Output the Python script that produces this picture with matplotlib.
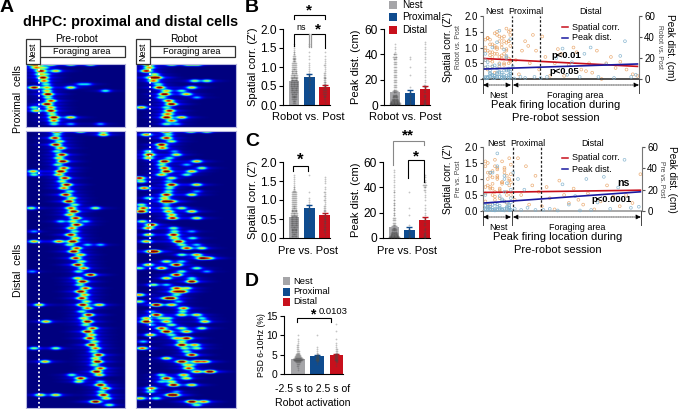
#!/usr/bin/env python
# coding:utf-8
import numpy as np
import matplotlib
matplotlib.use('Agg')
import matplotlib.pyplot as plt

plt.rcParams['font.family'] = ['Liberation Sans', 'DejaVu Sans']

W, H = 678, 409
GRAY, BLUE, RED = '#a5a5a8', '#0f4c8f', '#c8101c'
ORANGE, SKY = '#e8a060', '#7fb0cc'

# firing peaks per cell (% of track), strongest first
prox_pre = [[7, 13, 25, 45, 65], [10, 18], [15, 30], [14, 20], [17], [18], [20, 55, 62], [8, 21, 45],
            [21, 80], [22], [22], [25], [21], [25, 8], [25, 10], [26], [28, 45], [28], [28, 45, 75]]
prox_rob = [[12, 52, 35, 60], [13], [10], [18], [20, 15], [17, 58, 70], [22], [23, 55], [30, 45],
            [28, 50], [25, 60], [32], [35], [5, 30], [33], [30, 33], [30, 45], [35], [30, 40]]
dist_pre = [[31, 55, 78], [78, 31], [29], [34], [30], [35], [31], [36], [33], [37], [32], [38], [35, 7], [33, 8],
            [39], [36], [41], [38], [44], [40], [46], [43], [49], [45, 70, 5], [48], [44], [50], [47, 60, 35],
            [51], [46], [49, 8], [45], [50], [47, 33, 8], [44, 62, 75], [51], [48], [55], [50], [56], [52], [58],
            [53, 6], [65], [52], [57], [54], [60], [55], [59], [56], [61], [57, 74, 13], [62], [56], [63], [58],
            [62, 20], [60], [67], [62], [66], [64], [69], [66], [70, 30, 8], [68], [73], [70], [72, 19], [69],
            [75], [71], [74, 46], [55], [53, 75], [75], [80], [76], [78, 14, 30], [81], [70], [84]]
dist_rob = [[30, 54, 70], [10, 32], [30], [35], [25], [26], [12, 38], [13, 40], [12, 33], [28, 60], [25, 50],
            [28, 65], [30, 55], [25, 50], [3, 35], [5, 32], [35, 60], [8, 33], [32, 60], [30, 55], [28, 12],
            [29, 35], [5, 30], [7, 30, 45], [5, 32, 55], [35], [36, 60], [6], [15], [12, 37], [38, 55], [37, 12],
            [38, 56], [42, 10], [45, 60], [50, 65], [18, 15], [60, 45], [65, 72], [30, 45], [40, 12], [25, 60, 3],
            [45, 70], [40], [30, 55], [55], [17, 30], [40, 50], [45, 38], [3, 40], [35, 30], [3, 42], [20, 35],
            [47], [46, 15], [20, 45, 60], [10, 25, 32, 65], [10, 30, 68], [35, 15], [25, 45, 65], [30, 50],
            [14, 35], [50, 40], [45, 7], [45, 58], [6, 48, 60], [50], [55], [30], [45, 60, 68], [50, 55], [52],
            [73, 60], [47, 25], [30, 50], [35, 25], [37, 55], [15], [14, 40], [35, 38], [4, 20], [55, 67], [60]]
row_gain = [1.15, 0.72, 1.0, 0.55, 1.1, 0.8, 0.45, 1.05, 0.65, 1.15, 0.5, 0.88]

# bars: spatial corr. and peak distance
b_corr_means, b_corr_err = [0.62, 0.73, 0.48], [0.03, 0.08, 0.05]
b_peak_means, b_peak_err = [10, 9.5, 13], [1, 2.2, 2]
c_corr_means, c_corr_err = [0.55, 0.8, 0.6], [0.03, 0.08, 0.06]
c_peak_means, c_peak_err = [8.5, 6.5, 14], [1, 2, 2.2]
d_means, d_err = [4.0, 4.7, 4.9], [0.15, 0.3, 0.3]

# cell counts per value bin, for the dots over the bars
corr_bins = [0.05, 0.1, 0.15, 0.2, 0.25, 0.3, 0.35, 0.4, 0.45, 0.5, 0.55, 0.6, 0.65, 0.7, 0.75, 0.8, 0.85, 0.9, 0.95,
             1.0, 1.05, 1.1, 1.15, 1.2, 1.25, 1.3, 1.35, 1.4, 1.45, 1.5, 1.55, 1.6, 1.65]
peak_bins = [0.5, 1, 1.5, 2, 3, 4, 5, 6, 7, 8, 10, 12, 14, 16, 18, 20, 22, 24, 26, 28, 30, 32, 34, 36, 38, 40, 42, 44,
             46, 48, 50, 52, 54]
psd_bins = [1, 1.5, 2, 2.5, 3, 3.25, 3.5, 3.75, 4, 4.25, 4.5, 4.75, 5, 5.25, 5.5, 6, 6.5, 7, 7.5, 8, 8.5, 9, 10, 11, 13]
b_corr_counts = [[3, 4, 5, 6, 6, 7, 8, 9, 9, 10, 10, 10, 9, 9, 8, 8, 7, 7, 6, 5, 5, 5, 4, 4, 3, 3, 2, 2, 1, 1, 1, 1, 0],
                 [0, 1, 0, 1, 0, 1, 0, 1, 1, 1, 2, 1, 2, 1, 2, 1, 1, 1, 1, 1, 1, 1, 0, 1, 0, 1, 0, 1, 0, 0, 1, 1, 0],
                 [1, 1, 2, 2, 3, 4, 4, 4, 3, 3, 3, 3, 2, 3, 2, 2, 2, 1, 1, 1, 2, 1, 1, 1, 0, 1, 0, 1, 0, 0, 0, 0, 0]]
b_peak_counts = [[12, 14, 14, 12, 10, 9, 8, 7, 6, 5, 4, 4, 3, 3, 3, 3, 3, 3, 3, 3, 3, 3, 3, 4, 5, 4, 1, 1, 1, 1, 0, 0, 0],
                 [1, 1, 1, 1, 1, 1, 1, 1, 1, 1, 1, 0, 1, 0, 0, 0, 0, 1, 0, 0, 1, 0, 0, 1, 1, 0, 0, 0, 0, 0, 0, 0, 0],
                 [2, 2, 2, 2, 2, 2, 1, 2, 1, 2, 2, 2, 3, 2, 1, 1, 1, 1, 1, 1, 1, 0, 1, 1, 1, 1, 1, 1, 1, 1, 1, 0, 0]]
c_corr_counts = [[7, 6, 7, 7, 7, 8, 9, 9, 9, 9, 9, 8, 8, 7, 7, 6, 6, 5, 5, 5, 5, 5, 5, 5, 3, 2, 2, 1, 1, 1, 1, 1, 1],
                 [0, 0, 0, 0, 0, 1, 0, 1, 0, 1, 1, 0, 1, 1, 1, 1, 0, 1, 1, 1, 1, 0, 0, 1, 0, 0, 0, 0, 0, 0, 0, 0, 1],
                 [1, 1, 2, 2, 2, 3, 2, 3, 3, 3, 3, 2, 2, 2, 2, 2, 2, 1, 1, 2, 1, 2, 1, 2, 0, 1, 1, 0, 1, 1, 1, 1, 0]]
c_peak_counts = [[14, 14, 12, 10, 9, 8, 7, 6, 5, 4, 4, 3, 3, 3, 2, 2, 2, 2, 2, 2, 2, 1, 1, 2, 1, 1, 1, 1, 1, 1, 1, 1, 1],
                 [1, 1, 2, 1, 1, 1, 1, 1, 1, 0, 1, 0, 0, 0, 1, 0, 0, 1, 0, 0, 0, 0, 0, 1, 0, 0, 0, 0, 0, 0, 0, 0, 0],
                 [3, 2, 2, 2, 2, 2, 1, 2, 1, 1, 2, 2, 2, 2, 1, 1, 1, 1, 1, 0, 1, 1, 1, 1, 2, 3, 4, 3, 1, 1, 1, 0, 0]]
d_counts = [[1, 1, 2, 3, 5, 6, 8, 9, 11, 9, 7, 6, 5, 4, 3, 3, 2, 2, 2, 1, 1, 1, 1, 0, 0],
            [0, 0, 0, 1, 1, 2, 3, 3, 4, 4, 3, 3, 2, 2, 1, 1, 1, 1, 0, 0, 0, 0, 1, 0, 0],
            [0, 0, 1, 1, 2, 2, 3, 3, 3, 3, 3, 3, 3, 3, 2, 2, 2, 1, 1, 1, 0, 1, 0, 1, 1]]

# scatter: peak location vs. change
stripe_x = [1.5, 3, 4.5, 6, 7.5, 9, 10.5, 12, 13.5, 15, 16.5, 17.5]
b_nest_or = [0.9, 1.3, 0.6, 1.1, 0.8, 1.5, 0.4, 1.0, 1.2, 0.7, 0.5, 1.4, 1.25, 0.3, 1.1, 0.7, 1.45, 1.0, 0.5, 1.3,
             0.8, 1.6, 1.2, 0.6, 1.0, 1.3, 0.85, 0.55, 1.05, 0.95, 1.35, 0.75, 0.45, 1.15, 0.65, 1.55, 0.35, 0.9,
             1.25, 0.85, 0.2, 1.4, 0.7, 1.1, 0.5, 0.95, 1.2, 1.05, 0.6, 1.3, 0.75, 0.4, 1.0, 0.8, 1.2, 0.65, 1.35, 0.9,
             1.5, 0.55]
b_nest_bl = [2, 35, 8, 4, 28, 1, 14, 38, 3, 22, 6, 1, 18, 10, 4, 30, 2, 12, 46, 5, 3, 20, 8, 2, 1, 5, 1, 12, 0.5, 2,
             7, 3, 1, 9, 2, 4, 11, 6, 1, 3, 8, 1, 2, 5, 13, 1, 3, 6, 0.5, 2, 10, 4, 1, 16, 2, 7, 1, 3, 5, 1, 24, 2, 9, 1,
             4, 2, 6, 1, 3, 8]
c_nest_or = [1.55, 0.8, 1.2, 0.5, 1.4, 1.0, 0.7, 1.55, 0.3, 1.1, 0.8, 0.5, 1.4, 1.0, 0.2, 0.7, 1.6, 1.1, 0.4, 0.9,
             1.3, 0.6, 1.65, 0.9, 0.3, 1.2, 0.75, 1.25, 0.45, 1.05, 0.6, 0.85, 1.35, 0.25, 0.95, 1.15, 0.55, 1.5, 0.7,
             1.05, 0.35, 1.3, 0.65, 0.9, 1.2, 0.5, 1.0, 1.45, 0.75, 0.15, 1.1, 0.85, 0.6, 1.35]
c_nest_bl = [2, 42, 6, 1, 33, 4, 1, 20, 7, 2, 36, 1, 5, 54, 3, 1, 30, 6, 2, 12, 1, 26, 4, 2, 15, 1, 5, 36, 2, 1, 3, 8,
             0.5, 4, 2, 10, 1, 6, 3, 1, 9, 2, 5, 1, 7, 3, 1, 11, 2, 4, 1, 6, 0.5, 3, 14, 1, 2, 8, 4, 1, 5, 2, 1, 3, 18, 1]
b_or_x = [21, 23, 25, 27, 29, 30, 32, 34, 36, 38, 40, 43, 46, 48, 50, 52, 55, 58, 60, 63, 66, 68, 70, 73, 76, 79, 82,
          85, 88, 92, 96, 99]
b_or_y = [0.6, 0.15, 0.9, 1.2, 1.05, 0.5, 1.4, 0.9, 0.3, 1.35, 0.7, 0.1, 0.5, 0.95, 0.8, 0.1, 0.45, 1.0, 0.85, 0.3,
          0.25, 0.5, 0.2, 0.9, 0.0, 0.5, 0.7, 0.35, 0.55, 0.3, 0.15, 0.1]
b_bl_x = [19, 20, 24, 27, 33, 37, 41, 47, 51, 54, 57, 62, 65, 69, 74, 79, 84, 88, 91, 95, 98]
b_bl_y = [12, 0.5, 2, 1, 2, 1, 2, 20, 29, 4, 16, 2, 24, 30, 2, 14, 1, 22, 36, 2, 4]
c_or_x = [20, 22, 24, 27, 29, 31, 33, 35, 37, 40, 42, 45, 48, 51, 54, 57, 60, 63, 66, 70, 74, 78, 82, 86, 90, 94, 99]
c_or_y = [0.35, 1.65, 0.5, 1.4, 0.2, 0.8, 1.1, 0.6, 0.15, 0.75, 0.4, 0.05, 0.95, 0.5, 0.25, 0.7, 0.35, 0.2, 0.55, 0.05,
          0.3, 0.8, 0.45, 0.15, 0.5, 0.25, 1.15]
c_bl_x = [19, 20, 22, 24, 26, 28, 33, 38, 42, 47, 50, 54, 58, 61, 65, 68, 72, 76, 80, 85, 89, 93, 98]
c_bl_y = [36, 2, 30, 1, 20, 3, 1, 1, 2, 0.5, 25, 6, 14, 0.5, 30, 1, 8, 32, 2, 22, 48, 3, 4]
b_corr_fit, b_peak_fit = [0.65, 0.40], [9.5, 14.3]
c_corr_fit, c_peak_fit = [0.58, 0.65], [7.5, 18]
fit_x = [1, 99]

fig = plt.figure(figsize=(W / 100, H / 100), dpi=100)


def px_axes(l, t, r, b):
    return fig.add_axes([l / W, 1 - b / H, (r - l) / W, (b - t) / H])


def heat(box, rows, dot):
    ax = px_axes(*box)
    xs = np.arange(0, 100, 0.5)
    ys = np.arange(0, len(rows), 0.2)
    img = np.zeros((len(ys), len(xs)))
    for i, peaks in enumerate(rows):
        gain = row_gain[i % len(row_gain)]
        for k, p in enumerate(peaks):
            amp = gain if k == 0 else 0.6 * gain
            ry = np.exp(-(ys - i) ** 2 / (2 * 0.3 ** 2))
            core = np.exp(-(xs - p) ** 2 / (2 * 3.3 ** 2))
            halo = 0.13 * np.exp(-(xs - p) ** 2 / (2 * 11.0 ** 2))
            img += amp * np.outer(ry, core + halo)
    ax.imshow(img, aspect='auto', cmap='jet', vmin=0, vmax=1, extent=[0, 100, len(rows), 0],
              interpolation='bilinear')
    ax.axvline(dot, color='white', lw=1.3, ls=(0, (1, 1.4)))
    ax.set_xticks([])
    ax.set_yticks([])
    for s in ax.spines.values():
        s.set_color('#b8b8e0')
        s.set_linewidth(0.8)


heat((26, 64, 125, 127), prox_pre, 13)
heat((136, 64, 236, 127), prox_rob, 14)
heat((26, 131, 125, 408), dist_pre, 13)
heat((136, 131, 236, 408), dist_rob, 14)


def bars(box, means, errs, bins, counts, ylim, ticks, fmt, size=8.6):
    ax = px_axes(*box)
    cols = [GRAY, BLUE, RED]
    ax.bar(range(3), means, width=0.7, color=cols, zorder=1)
    for i in range(3):
        ax.errorbar(i, means[i], yerr=errs[i], color=cols[i], capsize=2, lw=1, zorder=2)
        for v, n in zip(bins, counts[i]):
            off = (np.arange(n) - (n - 1) / 2) * 0.05
            ax.scatter(i + off, [v] * n, s=1.6, color='#4a4a4a', alpha=0.32, lw=0, zorder=3, clip_on=False)
    ax.set_xlim(-0.72, 2.35)
    ax.set_ylim(*ylim)
    ax.set_yticks(ticks)
    ax.set_yticklabels([fmt % t for t in ticks], fontsize=size)
    ax.set_xticks([])
    ax.tick_params(axis='y', length=3, width=0.8, pad=1.5)
    ax.spines[['top', 'right']].set_visible(False)
    ax.patch.set_alpha(0)
    return ax


bars((283, 29, 330, 105), b_corr_means, b_corr_err, corr_bins, b_corr_counts, (0, 2), [0, 0.5, 1, 1.5, 2], '%.1f')
bars((384, 29, 430, 105), b_peak_means, b_peak_err, peak_bins, b_peak_counts, (0, 60), [0, 20, 40, 60], '%d')
bars((283, 162, 330, 238), c_corr_means, c_corr_err, corr_bins, c_corr_counts, (0, 2), [0, 0.5, 1, 1.5, 2], '%.1f')
bars((383, 162, 430, 238), c_peak_means, c_peak_err, peak_bins, c_peak_counts, (0, 60), [0, 20, 40, 60], '%d')
bars((284, 316, 343, 374), d_means, d_err, psd_bins, d_counts, (0, 15), [0, 5, 10, 15], '%d', size=7.4)


def scatter(box, nest_or, nest_bl, orx, ory, blx, bly, corr_fit, peak_fit, axcol):
    ax = px_axes(*box)
    nx_or = [stripe_x[i % len(stripe_x)] for i in range(len(nest_or))]
    nx_bl = [stripe_x[(i * 5) % len(stripe_x)] for i in range(len(nest_bl))]
    ax.scatter(nx_or + orx, nest_or + ory, s=4, facecolor='none', edgecolor=ORANGE, lw=0.5, alpha=0.85, clip_on=False)
    ax.plot(fit_x, corr_fit, color=RED, lw=1.2, zorder=4)
    ax.set_xlim(0, 100)
    ax.set_ylim(0, 2)
    ax.set_yticks([0, 0.5, 1, 1.5, 2])
    ax.set_yticklabels(['0.0', '0.5', '1.0', '1.5', '2.0'], fontsize=7)
    ax.set_xticks([])
    ax.tick_params(axis='y', length=2.5, width=0.8, pad=1.2, color='#555555')
    ax.spines['top'].set_visible(False)
    ax.spines['right'].set_visible(False)
    ax.spines['left'].set_color('#777777')
    ax.spines['bottom'].set_color(axcol)
    ax.spines['bottom'].set_linewidth(1.2)
    for x in [18.6, 36.6]:
        ax.axvline(x, color='#222222', lw=0.9, ls=(0, (2, 1.5)), zorder=5)
    ax2 = ax.twinx()
    ax2.scatter(nx_bl + blx, nest_bl + bly, s=4, facecolor='none', edgecolor=SKY, lw=0.5, alpha=0.9, clip_on=False)
    ax2.plot(fit_x, peak_fit, color='#1a1aa0', lw=1.2, zorder=4)
    ax2.set_ylim(0, 60)
    ax2.set_yticks([0, 20, 40, 60])
    ax2.set_yticklabels(['0', '20', '40', '60'], fontsize=7)
    ax2.tick_params(axis='y', length=2.5, width=0.8, pad=1.2, color='#555555')
    ax2.spines['top'].set_visible(False)
    ax2.spines['left'].set_visible(False)
    ax2.spines['bottom'].set_visible(False)
    ax2.spines['right'].set_color('#777777')


scatter((483, 16, 639, 79), b_nest_or, b_nest_bl, b_or_x, b_or_y, b_bl_x, b_bl_y, b_corr_fit, b_peak_fit, '#333333')
scatter((483, 147, 642, 211), c_nest_or, c_nest_bl, c_or_x, c_or_y, c_bl_x, c_bl_y, c_corr_fit, c_peak_fit, '#999999')

# overlay in pixels for the labels and brackets
ov = fig.add_axes([0, 0, 1, 1], zorder=20)
ov.set_xlim(0, W)
ov.set_ylim(H, 0)
ov.axis('off')
ov.patch.set_alpha(0)


def txt(x, y, s, size=8, ha='center', weight='normal', rot=0, color='black'):
    ov.text(x, y, s, fontsize=size, ha=ha, va='center', fontweight=weight, rotation=rot, color=color)


def bracket(x0, x1, y, y0, y1, color='black'):
    ov.plot([x0, x0, x1, x1], [y0, y, y, y1], color=color, lw=0.8, solid_joinstyle='miter')


# panel letters
for x, y, s in [(7, 8, 'A'), (252, 8, 'B'), (252, 142, 'C'), (252, 282, 'D')]:
    txt(x, y, s, size=14, weight='bold')
txt(23, 22, 'dHPC: proximal and distal cells', size=10.4, ha='left', weight='bold')

# panel A headers
for x0, xc, name in [(26, 76, 'Pre-robot'), (136, 184, 'Robot')]:
    txt(xc, 39, name, size=7.4)
    ov.add_patch(plt.Rectangle((x0 + 13, 46), 86, 11, fc='white', ec='#333333', lw=0.9))
    ov.add_patch(plt.Rectangle((x0, 39), 14, 25, fc='white', ec='#333333', lw=0.9))
    txt(x0 + 7, 52, 'Nest', size=6.5, rot=90)
    txt(x0 + 56, 52, 'Foraging area', size=6.6)
txt(18, 99, 'Proximal  cells', size=7.6, rot=90)
txt(18, 270, 'Distal  cells', size=7.6, rot=90)

# panel B and C labels
txt(253, 67, "Spatial corr. (Z')", size=8, rot=90)
txt(356, 67, 'Peak dist. (cm)', size=8, rot=90)
txt(253, 200, "Spatial corr. (Z')", size=8, rot=90)
txt(356, 200, 'Peak dist. (cm)', size=8, rot=90)
txt(308, 117, 'Robot vs. Post', size=8)
txt(405, 117, 'Robot vs. Post', size=8)
txt(308, 251, 'Pre vs. Post', size=8)
txt(407, 251, 'Pre vs. Post', size=8)

# legends
for y, c, s in [(5, GRAY, 'Nest'), (17, BLUE, 'Proximal'), (30, RED, 'Distal')]:
    ov.add_patch(plt.Rectangle((389, y - 4), 8, 8, fc=c, ec='none'))
    txt(402, y, s, size=7.2, ha='left')
for y, c, s in [(281, GRAY, 'Nest'), (292, BLUE, 'Proximal'), (302, RED, 'Distal')]:
    ov.add_patch(plt.Rectangle((283, y - 4), 7, 8, fc=c, ec='none'))
    txt(293, y, s, size=6.8, ha='left')

# brackets
bracket(294, 325, 15, 19, 19)
txt(309, 10, '*', size=11, weight='bold')
bracket(294, 309, 34, 46, 34, 'black')
ov.plot([308.5, 308.5], [34, 47], color='#999999', lw=0.9)
ov.plot([310.5, 310.5], [34, 47], color='#999999', lw=0.9)
bracket(312, 325, 34, 34, 48)
txt(301, 27, 'ns', size=6.5)
txt(318, 29, '*', size=11, weight='bold')
bracket(293, 308, 166, 171, 171)
txt(300, 160, '*', size=12, weight='bold')
bracket(393, 424, 141, 165, 145, '#888888')
txt(408, 135, '**', size=11, weight='bold')
bracket(408, 424, 160, 178, 182)
txt(416, 156, '*', size=11, weight='bold')
bracket(297, 331, 318, 322, 322)
txt(313, 314, '*', size=10, weight='bold')
txt(319, 312, '0.0103', size=6.8, ha='left')
txt(261, 345, 'PSD 6-10Hz (%)', size=6.2, rot=90)
txt(313, 389, '-2.5 s to 2.5 s of', size=7.6)
txt(313, 403, 'Robot activation', size=7.6)


def scatter_labels(dy, xshift, cond, leg_y):
    top = 11 + dy
    txt(494 + xshift, top, 'Nest', size=6.5)
    txt(526 + xshift, top, 'Proximal', size=6.5)
    txt(591 + xshift, top, 'Distal', size=6.5)
    txt(448, 47 + dy, 'Spatial corr. (Z\')', size=7.2, rot=90)
    txt(459, 47 + dy, cond, size=4.9, rot=90, color='#444444')
    txt(670 + xshift, 47 + dy, 'Peak dist. (cm)', size=7.2, rot=-90)
    txt(659 + xshift, 47 + dy, cond, size=4.9, rot=-90, color='#444444')
    for y, c, s in [(leg_y, RED, 'Spatial corr.'), (leg_y + 11, '#1a1aa0', 'Peak dist.')]:
        ov.plot([562, 568], [y, y], color=c, lw=1.1)
        txt(572, y, s, size=6.5, ha='left')
    ar = 85 + dy
    for x0, x1 in [(483, 511), (513, 639 + xshift)]:
        ov.annotate('', xy=(x1, ar), xytext=(x0, ar), arrowprops=dict(
            arrowstyle='<|-|>,head_width=0.14,head_length=0.3', color='black', lw=0.5, ls=(0, (1.5, 1)),
            shrinkA=0, shrinkB=0))
    for x in [483, 512, 639 + xshift]:
        ov.plot([x, x], [79 + dy, 93 + dy], color='#444444', lw=0.7)
    txt(498, 95 + dy, 'Nest', size=6.5)
    txt(575 + xshift, 95 + dy, 'Foraging area', size=6.5)
    txt(556 + xshift, 105 + dy, 'Peak firing location during', size=8)
    txt(556 + xshift, 118 + dy, 'Pre-robot session', size=8)


scatter_labels(0, 0, 'Robot vs. Post', 27)
scatter_labels(132, 2, 'Pre vs. Post', 158)
txt(551, 56, 'p<0.01', size=6.8, ha='left', weight='bold')
txt(549, 72, 'p<0.05', size=6.8, ha='left', weight='bold')
txt(623, 183, 'ns', size=7.6, weight='bold')
txt(612, 199, 'p<0.0001', size=6.8, weight='bold')

fig.savefig('out.png', dpi=100)
